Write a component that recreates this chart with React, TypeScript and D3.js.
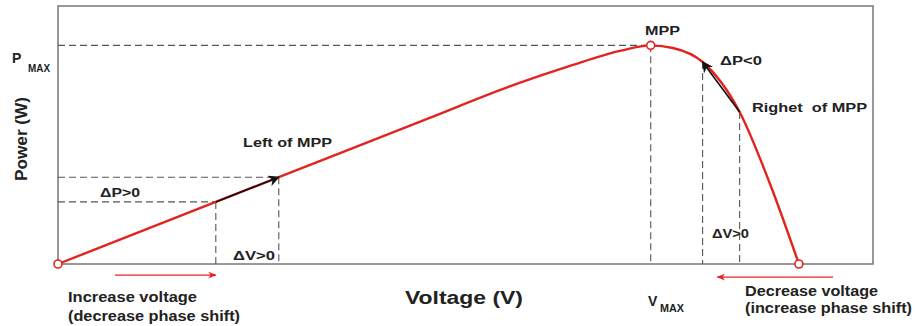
import React from "react";
import * as d3 from "d3";

// P-V curve of the PV module
const voltage = [0, 21.3, 29.8, 50, 62, 69, 76, 80, 83, 87, 92, 96, 100];
const power = [0, 28.4, 39.7, 66.6, 82.5, 90.5, 97.6, 100, 98.8, 92.4, 69.5, 37.5, 0];

// perturbation points: left and right of MPP
const leftStep = { v: [21.3, 29.8], p: [28.4, 39.7] };
const rightStep = { v: [92, 87], p: [69.5, 92.4] };
const mpp = { v: 80, p: 100 };

// direction arrows below the axis (voltage units)
const incArrow = [7.7, 21.3];
const decArrow = [104.6, 89];

export default function App() {
  const width = 915;
  const height = 326;
  const marginLeft = 58;
  const marginRight = 42;
  const marginTop = 6;
  const marginBottom = 62;

  const x = d3.scaleLinear().domain([0, 110]).range([marginLeft, width - marginRight]);
  const y = d3.scaleLinear().domain([0, 118]).range([height - marginBottom, marginTop]);

  const pts: [number, number][] = voltage.map((v, i) => [v, power[i]]);
  const line = d3
    .line<[number, number]>()
    .x((d) => x(d[0]))
    .y((d) => y(d[1]))
    .curve(d3.curveMonotoneX);

  const red = "#e3231f";
  const dash = "#555";
  const txt = "#222";
  const font = "'Liberation Sans', Arial, sans-serif";
  const y0 = y(0);
  const arrowY = y(-5.5);

  const dashed = (x1: number, y1: number, x2: number, y2: number, key: string) => (
    <line key={key} x1={x1} y1={y1} x2={x2} y2={y2} stroke={dash} strokeWidth={1.1} strokeDasharray="7,4" />
  );

  // stretched label, width
  const label = (s: string, lx: number, ly: number, size: number, len: number) => (
    <text x={lx} y={ly} fontSize={size} textLength={len} lengthAdjust="spacingAndGlyphs" style={{ whiteSpace: "pre" }}>
      {s}
    </text>
  );

  return (
    <svg width={width} height={height} style={{ position: "absolute", left: 0, top: 0, background: "#fff" }} fontFamily={font}>
      <defs>
        <marker id="blk" viewBox="0 0 10 10" refX="9" refY="5" markerWidth="7" markerHeight="7" orient="auto">
          <path d="M0,0 L10,5 L0,10 L3,5 Z" fill="#111" />
        </marker>
        <marker id="red" viewBox="0 0 10 10" refX="9" refY="5" markerWidth="9" markerHeight="7" orient="auto">
          <path d="M0,1 L10,5 L0,9 L3,5 Z" fill={red} />
        </marker>
      </defs>

      {/* frame */}
      <rect x={marginLeft} y={marginTop} width={width - marginLeft - marginRight} height={y0 - marginTop} fill="none" stroke="#777" strokeWidth={1.5} />

      {/* dashed guides */}
      {dashed(marginLeft, y(mpp.p), x(mpp.v), y(mpp.p), "pmax")}
      {dashed(x(mpp.v), y(mpp.p), x(mpp.v), y0, "vmax")}
      {leftStep.v.map((v, i) => dashed(marginLeft, y(leftStep.p[i]), x(v), y(leftStep.p[i]), "lh" + i))}
      {leftStep.v.map((v, i) => dashed(x(v), y(leftStep.p[i]), x(v), y0, "lv" + i))}
      {rightStep.v.map((v, i) => dashed(x(v), y(rightStep.p[i]), x(v), y0, "rv" + i))}

      {/* curve */}
      <path d={line(pts) ?? ""} fill="none" stroke={red} strokeWidth={2.4} />

      {/* perturbation arrows */}
      <line x1={x(leftStep.v[0])} y1={y(leftStep.p[0])} x2={x(leftStep.v[1])} y2={y(leftStep.p[1])} stroke="#111" strokeWidth={1.6} markerEnd="url(#blk)" />
      <line x1={x(rightStep.v[0])} y1={y(rightStep.p[0])} x2={x(rightStep.v[1])} y2={y(rightStep.p[1])} stroke="#111" strokeWidth={1.6} markerEnd="url(#blk)" />

      {/* circles */}
      {[[0, 0], [mpp.v, mpp.p], [100, 0]].map((d, i) => (
        <circle key={i} cx={x(d[0])} cy={y(d[1])} r={4} fill="#fff" stroke={red} strokeWidth={1.6} />
      ))}

      {/* direction arrows */}
      <line x1={x(incArrow[0])} y1={arrowY - 1} x2={x(incArrow[1])} y2={arrowY - 1} stroke={red} strokeWidth={1.2} markerEnd="url(#red)" />
      <line x1={x(decArrow[0])} y1={arrowY + 1} x2={x(decArrow[1])} y2={arrowY + 1} stroke={red} strokeWidth={1.2} markerEnd="url(#red)" />

      {/* labels */}
      <g fill={txt} fontWeight="bold">
        <text x={12} y={63} fontSize={14}>P</text>
        <text x={28} y={72} fontSize={10} textLength={22} lengthAdjust="spacingAndGlyphs">MAX</text>
        <text transform="translate(27,139) rotate(-90)" textAnchor="middle" fontSize={17} textLength={84} lengthAdjust="spacingAndGlyphs">Power (W)</text>
        {label("Voltage (V)", 405, 304, 18, 118)}
        <text x={648} y={306} fontSize={14}>V</text>
        <text x={660} y={312} fontSize={10} textLength={24} lengthAdjust="spacingAndGlyphs">MAX</text>
        {label("MPP", 645, 35, 13, 35)}
        {label("ΔP<0", 720, 65, 13, 42)}
        {label("Righet  of MPP", 752, 112, 13, 115)}
        {label("Left of MPP", 243, 147, 13, 89)}
        {label("ΔP>0", 100, 197, 13, 40)}
        {label("ΔV>0", 233, 260, 13, 42)}
        {label("ΔV>0", 712, 238, 13, 37)}
        {label("Increase voltage", 68, 302, 14, 129)}
        {label("(decrease phase shift)", 68, 321, 14, 172)}
        {label("Decrease voltage", 745, 296, 14, 133)}
        {label("(increase phase shift)", 745, 313, 14, 167)}
      </g>
    </svg>
  );
}
